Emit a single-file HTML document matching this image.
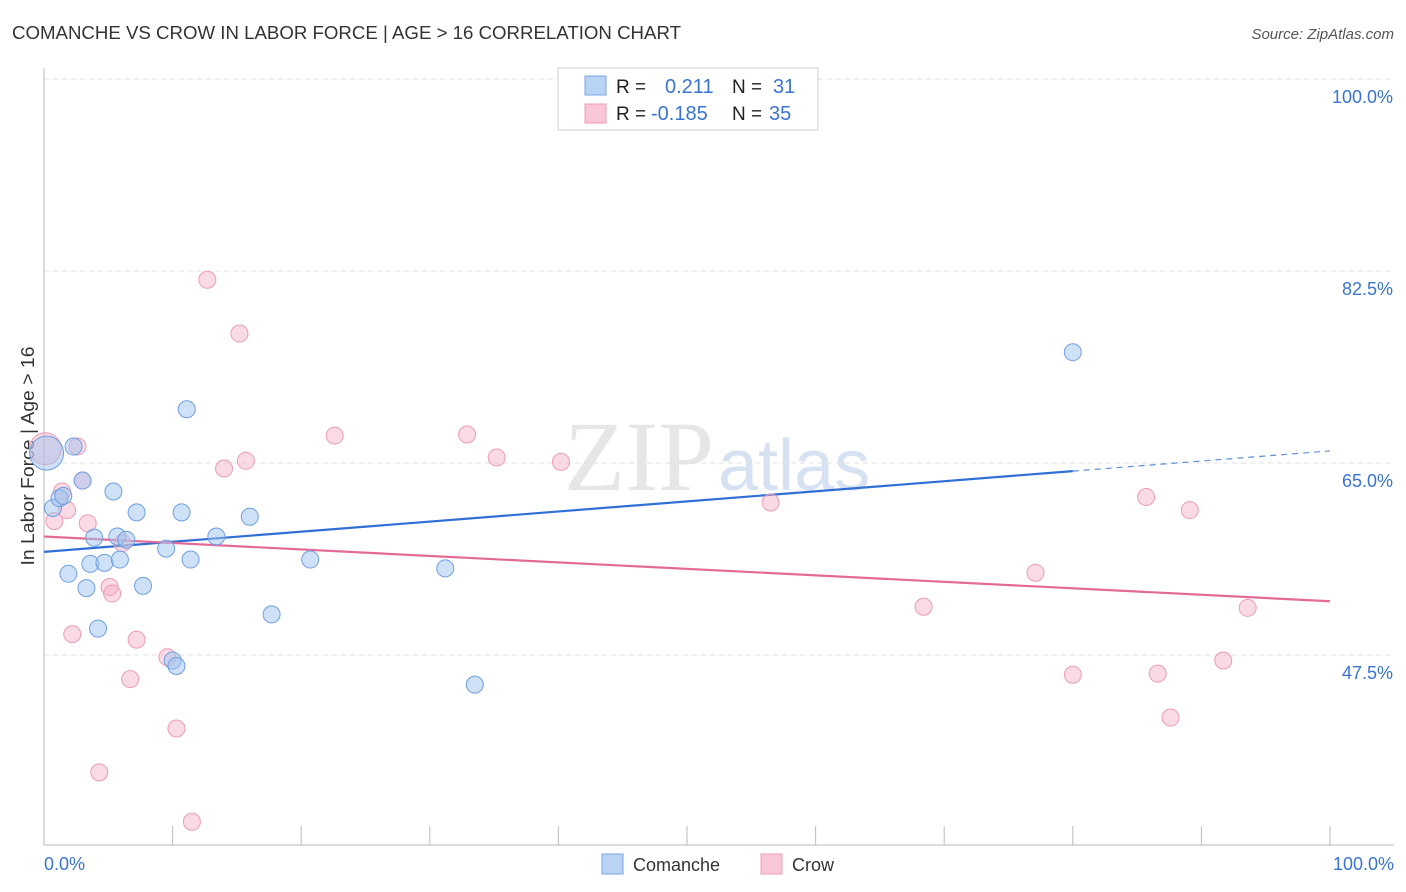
<!DOCTYPE html>
<html><head><meta charset="utf-8"><style>
body{margin:0;background:#fff;font-family:"Liberation Sans",sans-serif}
svg{display:block}
</style></head><body>
<svg id="chart" width="1406" height="892">
<text x="12" y="39" font-size="18" fill="#333" textLength="669" lengthAdjust="spacingAndGlyphs">COMANCHE VS CROW IN LABOR FORCE | AGE &gt; 16 CORRELATION CHART</text>
<text x="1394" y="39" font-size="15" fill="#555" font-style="italic" text-anchor="end">Source: ZipAtlas.com</text>
<text x="0" y="0" transform="translate(34,456) rotate(-90)" font-size="18" fill="#333" text-anchor="middle" textLength="219" lengthAdjust="spacingAndGlyphs">In Labor Force | Age &gt; 16</text>
<text x="714" y="490" font-size="100" fill="#e6e6e6" font-family="Liberation Serif,serif" text-anchor="end">ZIP</text>
<text x="718" y="490" font-size="72" fill="#d6e2f2">atlas</text>
<g id="grid"></g><g id="axes"></g><g id="trends"></g><g id="points"></g>
<g>
<rect x="558" y="68" width="260" height="62" fill="#fff" stroke="#ccc"/>
<rect x="585" y="76" width="21" height="19" fill="#b9d3f5" stroke="#7aa6e3"/>
<rect x="585" y="104" width="21" height="19" fill="#f8c6d5" stroke="#ec9cb5"/>
<text x="616" y="93" font-size="19" fill="#222">R = </text><text x="665" y="93" font-size="20" fill="#3a74d0">0.211</text>
<text x="732" y="93" font-size="19" fill="#222">N = </text><text x="773" y="93" font-size="20" fill="#3a74d0">31</text>
<text x="616" y="120" font-size="19" fill="#222">R = </text><text x="651" y="120" font-size="20" fill="#3a74d0">-0.185</text>
<text x="732" y="120" font-size="19" fill="#222">N = </text><text x="769" y="120" font-size="20" fill="#3a74d0">35</text>
</g>
<g>
<rect x="602" y="854" width="21" height="20" fill="#b9d3f5" stroke="#7aa6e3"/>
<text x="633" y="871" font-size="18" fill="#333">Comanche</text>
<rect x="761" y="854" width="21" height="20" fill="#f8c6d5" stroke="#ec9cb5"/>
<text x="792" y="871" font-size="18" fill="#333">Crow</text>
</g>
</svg>
<script>
const yTicks=[100,82.5,65,47.5];
const yTickLabels=["100.0%","82.5%","65.0%","47.5%"];
const xTickLabels=["0.0%","100.0%"];
const comancheX=[0.2,0.7,1.2,1.5,1.9,2.3,3.0,3.3,3.6,3.9,4.2,4.7,5.4,5.7,5.9,6.4,7.2,7.7,9.5,10.0,10.3,10.7,11.1,11.4,13.4,16.0,17.7,20.7,31.2,33.5,80.0];
const comancheY=[65.9,60.9,61.8,62.0,54.9,66.5,63.4,53.6,55.8,58.2,49.9,55.9,62.4,58.3,56.2,58.0,60.5,53.8,57.2,47.0,46.5,60.5,69.9,56.2,58.3,60.1,51.2,56.2,55.4,44.8,75.1];
const crowX=[0.1,0.8,1.4,1.8,2.2,2.6,3.0,3.4,4.3,5.1,5.3,6.1,6.7,7.2,9.6,10.3,11.5,12.7,14.0,15.2,15.7,22.6,32.9,35.2,40.2,56.5,68.4,77.1,80.0,85.7,86.6,87.6,89.1,91.7,93.6];
const crowY=[66.3,59.7,62.4,60.7,49.4,66.5,63.4,59.5,36.8,53.7,53.1,57.7,45.3,48.9,47.3,40.8,32.3,81.7,64.5,76.8,65.2,67.5,67.6,65.5,65.1,61.4,51.9,55.0,45.7,61.9,45.8,41.8,60.7,47.0,51.8];
const comancheTrend=[56.9,66.1];
const crowTrend=[58.3,52.4];
const NS="http://www.w3.org/2000/svg";
const X=v=>44+v*12.86, Y=v=>79+(100-v)*192/17.5;
function mk(tag,attrs,parent){const e=document.createElementNS(NS,tag);for(const k in attrs)e.setAttribute(k,attrs[k]);document.getElementById(parent).appendChild(e);return e;}
yTicks.forEach((t,i)=>{
  const l=mk('line',{x1:44,x2:1394,y1:Y(t),y2:Y(t),stroke:'#e2e2e2','stroke-dasharray':'5,4'},'grid');
  
  
  const tx=mk('text',{x:1393,y:Y(t)+24,'font-size':18,fill:'#3a74d0','text-anchor':'end'},'grid');
  tx.textContent=yTickLabels[i];
  
  
});
const ax=mk('line',{x1:44,x2:44,y1:68,y2:845,stroke:'#bbb'},'axes');


const bx=mk('line',{x1:44,x2:1394,y1:845,y2:845,stroke:'#bbb'},'axes');


for(let i=0;i<=10;i++){const t=mk('line',{x1:X(i*10),x2:X(i*10),y1:826,y2:845,stroke:'#bbb'},'axes');
  
  }
[[0,'start',44],[100,'end',1394]].forEach((d,i)=>{const t=mk('text',{x:d[2],y:870,'font-size':18,fill:'#3a74d0','text-anchor':d[1]},'axes');t.textContent=xTickLabels[i];
  
  });
const cy=x=>comancheTrend[0]+(comancheTrend[1]-comancheTrend[0])*x/100;
const t1=mk('line',{x1:X(0),y1:Y(cy(0)),x2:X(80),y2:Y(cy(80)),stroke:'#2f6fd6','stroke-width':2.2},'trends');


const t2=mk('line',{x1:X(80),y1:Y(cy(80)),x2:X(100),y2:Y(cy(100)),stroke:'#5c8fd8','stroke-width':1.2,'stroke-dasharray':'6,5'},'trends');


const t3=mk('line',{x1:X(0),y1:Y(crowTrend[0]),x2:X(100),y2:Y(crowTrend[1]),stroke:'#e46a95','stroke-width':2.2},'trends');


crowX.forEach((x,i)=>{const c=mk('circle',{cx:X(x),cy:Y(crowY[i]),r:i==0?16:8.5,fill:'rgba(245,175,198,0.45)',stroke:'#ec9cb5','stroke-width':1},'points');
  
  });
comancheX.forEach((x,i)=>{const c=mk('circle',{cx:X(x),cy:Y(comancheY[i]),r:i==0?17:8.5,fill:'rgba(160,195,240,0.5)',stroke:'#6f9fe0','stroke-width':1},'points');
  
  });
</script>
</body></html>
